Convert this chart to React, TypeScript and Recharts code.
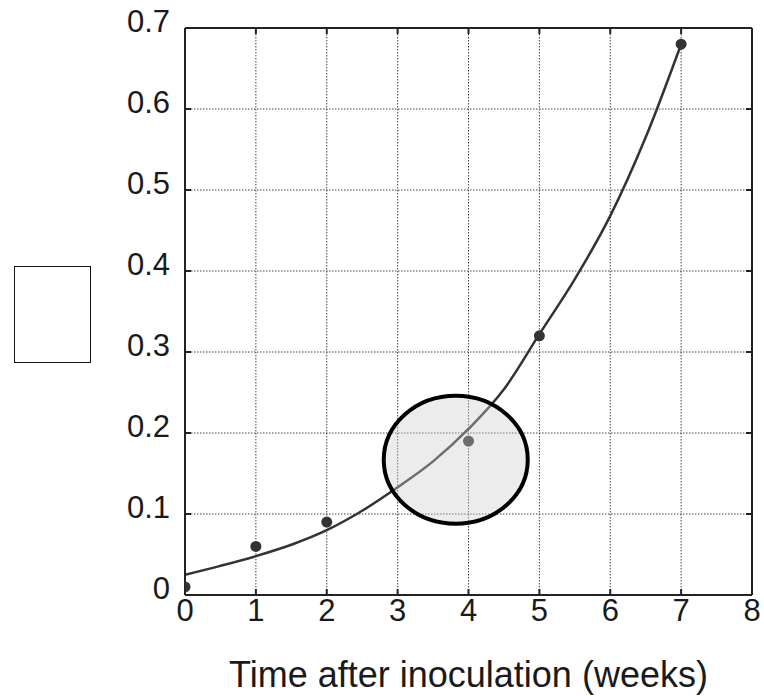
import React from 'react';
import { ComposedChart, Line, Scatter, XAxis, YAxis, CartesianGrid } from 'recharts';

const xTicks = [0, 1, 2, 3, 4, 5, 6, 7, 8];
const yTicks = [0, 0.1, 0.2, 0.3, 0.4, 0.5, 0.6, 0.7];
const xLabel = 'Time after inoculation (weeks)';

// measured points
const weeks = [0, 1, 2, 4, 5, 7];
const values = [0.01, 0.06, 0.09, 0.19, 0.32, 0.68];

// fitted curve
const curveX = [0, 0.5, 1, 1.5, 2, 2.5, 3, 3.5, 4, 4.5, 5, 5.5, 6, 6.5, 7];
const curveY = [0.025, 0.036, 0.048, 0.062, 0.08, 0.104, 0.133, 0.165, 0.205, 0.254, 0.322, 0.39, 0.468, 0.565, 0.68];

// highlighted ellipse centre
const highlight = [{ x: 3.82, y: 0.167 }];

const points = weeks.map((w, i) => ({ x: w, y: values[i] }));
const curve = curveX.map((x, i) => ({ x, y: curveY[i] }));

const FONT = '"Liberation Sans", Arial, sans-serif';
const TXT = '#1a1a1a';

const XTick = (props: any) => {
  const { x, y, payload } = props;
  return (
    <text x={x} y={y + 32} textAnchor="middle" fontSize={31} fontFamily={FONT} fill={TXT}>
      {String(payload.value)}
    </text>
  );
};

const YTick = (props: any) => {
  const { x, y, payload } = props;
  const v = payload.value;
  return (
    <text x={x} y={y + 4} textAnchor="end" fontSize={31} fontFamily={FONT} fill={TXT}>
      {v === 0 ? '0' : Number(v).toFixed(1)}
    </text>
  );
};

const Empty = () => <g />;

export default function App() {
  return (
    <div style={{ position: 'absolute', left: 0, top: 0, width: 764, height: 696, background: '#fff' }}>
      <div
        style={{
          position: 'absolute',
          left: 14,
          top: 266,
          width: 77,
          height: 97,
          border: '1px solid #111',
          boxSizing: 'border-box',
        }}
      />
      <ComposedChart width={764} height={696} margin={{ top: 18, right: 2, left: 125, bottom: 0 }}>
        <CartesianGrid stroke="#444" strokeDasharray="1.5 1.5" strokeWidth={1} />
        <XAxis
          type="number"
          dataKey="x"
          xAxisId={0}
          domain={[0, 8]}
          ticks={xTicks}
          interval={0}
          height={101}
          tickSize={-6}
          tickMargin={0}
          tick={<XTick />}
          stroke="#222"
          strokeWidth={2}
          allowDataOverflow
          label={{ value: xLabel, position: 'insideBottom', offset: 9, fontSize: 36, fill: TXT, fontFamily: FONT }}
        />
        <XAxis
          type="number"
          dataKey="x"
          xAxisId="top"
          orientation="top"
          domain={[0, 8]}
          ticks={xTicks}
          interval={0}
          height={10}
          tickSize={-6}
          tick={<Empty />}
          stroke="#222"
          strokeWidth={2}
          allowDataOverflow
        />
        <YAxis
          type="number"
          dataKey="y"
          yAxisId={0}
          domain={[0, 0.7]}
          ticks={yTicks}
          interval={0}
          width={60}
          tickSize={-6}
          tickMargin={21}
          tick={<YTick />}
          stroke="#222"
          strokeWidth={2}
          allowDataOverflow
        />
        <YAxis
          type="number"
          dataKey="y"
          yAxisId="right"
          orientation="right"
          domain={[0, 0.7]}
          ticks={yTicks}
          interval={0}
          width={10}
          tickSize={-6}
          tick={<Empty />}
          stroke="#222"
          strokeWidth={2}
          allowDataOverflow
        />
        <Line
          data={curve}
          dataKey="y"
          type="monotone"
          stroke="#333"
          strokeWidth={2.5}
          dot={false}
          activeDot={false}
          isAnimationActive={false}
        />
        <Scatter
          data={points}
          dataKey="y"
          fill="#333"
          isAnimationActive={false}
          shape={(p: any) => <circle cx={p.cx} cy={p.cy} r={5.5} fill="#333" />}
        />
        <Scatter
          data={highlight}
          dataKey="y"
          isAnimationActive={false}
          shape={(p: any) => (
            <ellipse cx={p.cx} cy={p.cy} rx={72} ry={64} fill="#cccccc" fillOpacity={0.38} stroke="#000" strokeWidth={4} />
          )}
        />
      </ComposedChart>
    </div>
  );
}
